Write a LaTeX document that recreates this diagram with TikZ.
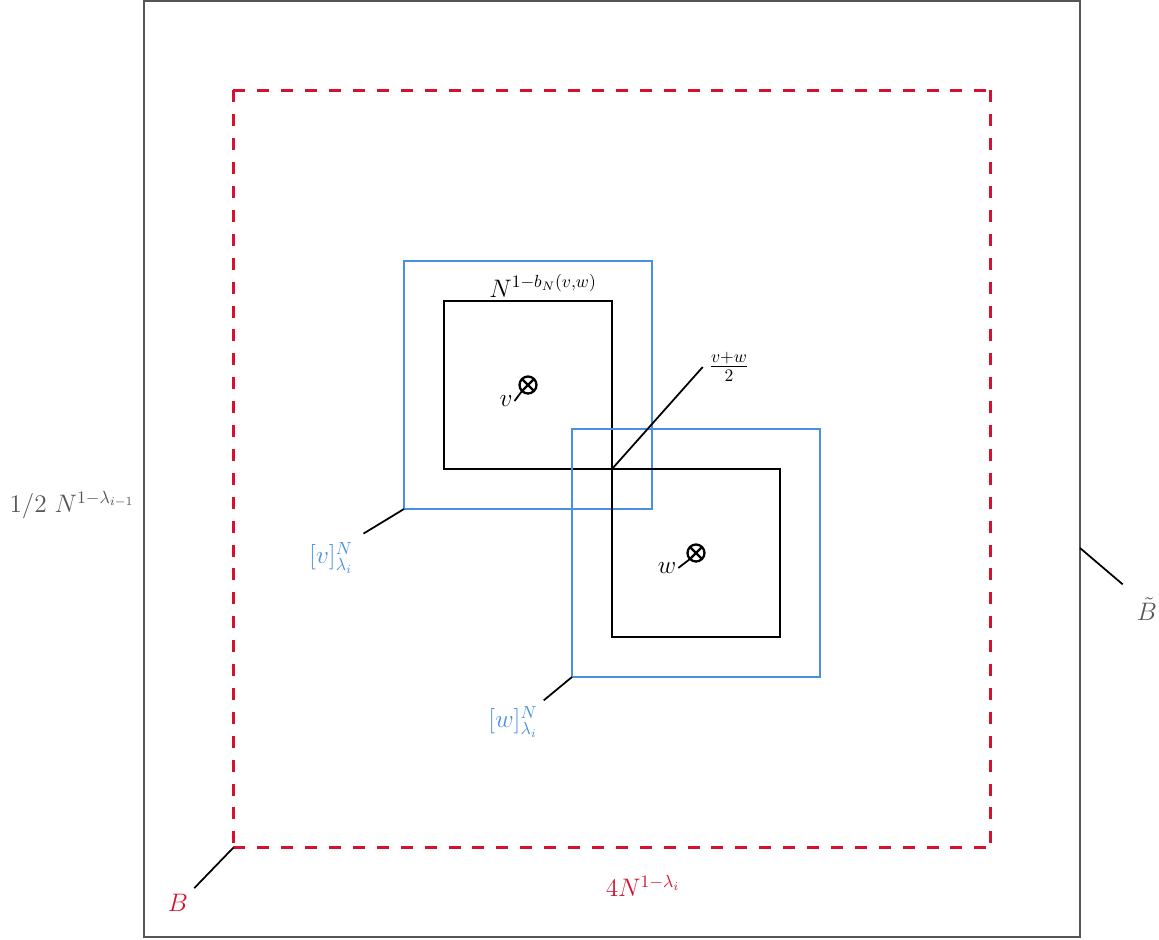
\documentclass[tikz,border=0pt]{standalone}
\usepackage{amsmath}
\definecolor{boxred}{HTML}{D4112E}
\definecolor{boxblue}{HTML}{4A90E2}
\definecolor{boxgray}{HTML}{555555}
\begin{document}
\begin{tikzpicture}[
  font=\fontsize{13.8}{16}\selectfont,
  box/.style={inner sep=0pt, outer sep=0pt},
  grayline/.style={draw=boxgray, line width=1.1pt},
  redline/.style={draw=boxred, line width=1.2pt, dash pattern=on 6.8pt off 6.8pt},
  blueline/.style={draw=boxblue, line width=1.05pt},
  blackline/.style={draw=black, line width=1.15pt},
  ptmark/.style={circle, draw=black, line width=1.3pt, inner sep=0pt, outer sep=0pt, minimum size=3.4mm,
    path picture={\draw[line width=1.3pt] (path picture bounding box.north west) -- (path picture bounding box.south east)
      (path picture bounding box.north east) -- (path picture bounding box.south west);}},
  pinline/.style={draw=black, line width=1pt}
]
  \useasboundingbox (-12.24,-9.42) rectangle (10.94,9.38);

  % Cajas grandes
  \node[box, minimum size=18.72cm] (outer) at (0,0) {};
  \node[box, minimum size=15.14cm] (red) at (0,0) {};
  \draw[grayline] (outer.north west) -- (outer.north east) -- (outer.south east) -- (outer.south west) -- cycle;
  \draw[redline] (red.north west) -- (red.north east);
  \draw[redline] (red.north east) -- (red.south east);
  \draw[redline] (red.north west) -- (red.south west);
  \draw[redline] (red.south west) -- (red.south east);

  % Cajas de v y w
  \foreach \p/\x/\y in {v/-1.68/1.68, w/1.68/-1.68} {
    \node[box, minimum size=4.96cm] (blue\p) at (\x,\y) {};
    \node[box, minimum size=3.36cm] (black\p) at (\x,\y) {};
    \draw[blueline] (blue\p.north west) -- (blue\p.north east) -- (blue\p.south east) -- (blue\p.south west) -- cycle;
    \draw[blackline] (black\p.north west) -- (black\p.north east) -- (black\p.south east) -- (black\p.south west) -- cycle;
    \node[ptmark] (pt\p) at (\x,\y) {};
  }

  % Etiquetas
  \node[text=boxgray] (lhalf) at (-10.80,-0.72) {$1/2\ N^{1-\lambda_{i-1}}$};
  \node[text=boxgray] (lBt) at (10.70,-2.80) {$\tilde{B}$};
  \node[text=boxred] (lB) at (-8.68,-8.68) {$B$};
  \node[text=boxred] (lfour) at (0.62,-8.34) {$4N^{1-\lambda_i}$};
  \node[text=boxblue] (lv) at (-5.62,-1.78) {$[v]^N_{\lambda_i}$};
  \node[text=boxblue] (lw) at (-1.98,-5.06) {$[w]^N_{\lambda_i}$};
  \node (lb) at (-1.38,3.66) {$N^{1-b_N(v,w)}$};
  \node (lmid) at (2.34,2.04) {$\frac{v+w}{2}$};
  \node[inner sep=1pt] (lptv) at (-2.12,1.36) {$v$};
  \node[inner sep=1pt] (lptw) at (1.10,-1.98) {$w$};

  % Lineas
  \draw[pinline, shorten >=6pt] ([yshift=-1.58cm]outer.east) -- (lBt.north west);
  \draw[pinline] (red.south west) -- (lB.north east);
  \draw[pinline, shorten >=3pt] (bluev.south west) -- (lv.north east);
  \draw[pinline] (bluew.south west) -- (lw.north east);
  \draw[pinline] (blackv.south east) -- (lmid.west);
  \draw[pinline] (ptv.south west) -- (lptv.east);
  \draw[pinline] (ptw.south west) -- (lptw.east);
\end{tikzpicture}
\end{document}
